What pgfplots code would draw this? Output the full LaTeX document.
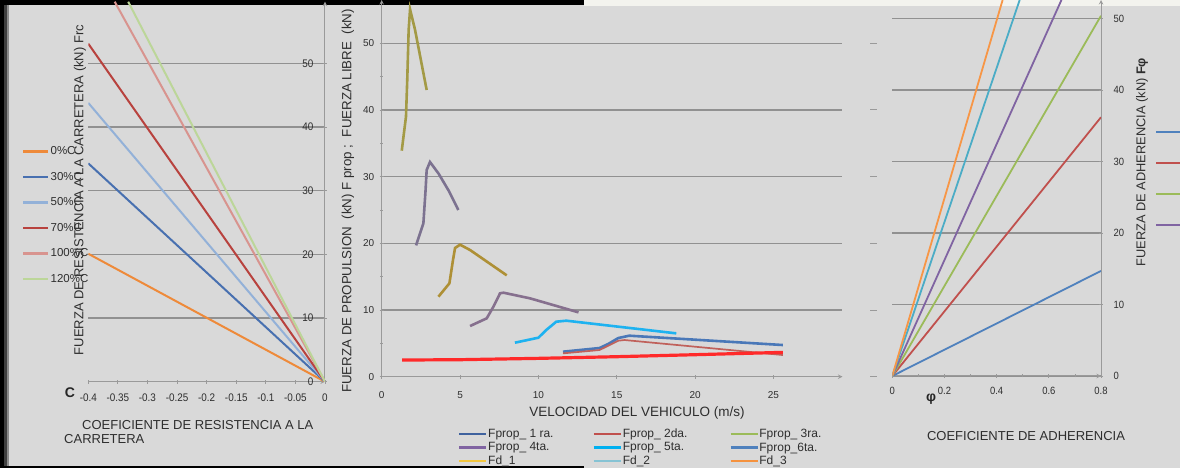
\documentclass[border=0pt]{standalone}
\usepackage{fontspec}
\setmainfont{Liberation Sans}
\newfontfamily\narrowfont[FakeStretch=0.9]{Liberation Sans}
\usepackage{pgfplots}
\pgfplotsset{compat=1.18}
\definecolor{bg}{HTML}{D9D9D9}
\definecolor{ybar}{HTML}{F7C000}
\definecolor{offw}{HTML}{F3F3EE}
\definecolor{gridc}{HTML}{919191}
\definecolor{axl}{HTML}{9A9A9A}
\definecolor{txt}{HTML}{2E2E2E}
\definecolor{lOr}{HTML}{EE8A3A}
\definecolor{lBl}{HTML}{4870B0}
\definecolor{lLb}{HTML}{93B1D8}
\definecolor{lRd}{HTML}{B8423E}
\definecolor{lPk}{HTML}{D8948F}
\definecolor{lGr}{HTML}{BCD699}
\definecolor{mOl}{HTML}{A39A45}
\definecolor{mGp}{HTML}{7C7290}
\definecolor{mGo}{HTML}{AE9036}
\definecolor{mPb}{HTML}{86708E}
\definecolor{mCy}{HTML}{1EB2F0}
\definecolor{mBl}{HTML}{4A78B8}
\definecolor{mRt}{HTML}{C0615B}
\definecolor{mRd}{HTML}{FF2A2A}
\definecolor{gA}{HTML}{3F629E}
\definecolor{gB}{HTML}{C0504D}
\definecolor{gC}{HTML}{9BBB59}
\definecolor{gD}{HTML}{8064A2}
\definecolor{gE}{HTML}{00B0F0}
\definecolor{gF}{HTML}{4F81BD}
\definecolor{gG}{HTML}{F2C640}
\definecolor{gH}{HTML}{86C3D4}
\definecolor{gI}{HTML}{F5923E}
\definecolor{rBl}{HTML}{4F81BD}
\definecolor{rRd}{HTML}{C0504D}
\definecolor{rGr}{HTML}{9BBB59}
\definecolor{rPu}{HTML}{8064A2}
\definecolor{rCy}{HTML}{4BACC6}
\definecolor{rOr}{HTML}{F79646}
\pgfplotsset{
  panel/.style={
    scale only axis, anchor=south west,
    axis line style={-, draw=axl, line width=1pt},
    ymajorgrids, grid style={draw=gridc, line width=1.5pt},
    major tick style={draw=axl, line width=0.8pt},
    minor tick style={draw=axl, line width=0.8pt},
    tick align=outside, major tick length=4pt, minor tick length=3pt,
    tick label style={text=txt},
    /pgf/number format/assume math mode=true,
    legend cell align=left,
  },
}
\begin{document}
\begin{tikzpicture}[x=1pt,y=1pt]
\clip (0,0) rectangle (1180,468);
\fill[bg] (0,0) rectangle (1180,468);
\fill[ybar] (0,463) rectangle (584,468);
\fill[offw] (584,462) rectangle (1180,468);
\fill[ybar] (0,0) rectangle (584,2);
\fill[ybar] (0,0) rectangle (4,468);
\fill[black!75] (4,2) rectangle (6.5,463);
\fill[black!45] (6.5,2) rectangle (9,463);

% ---------------- left panel ----------------
\begin{axis}[panel,
  at={(88.3pt,86.3pt)}, width=236.7pt, height=380pt,
  xmin=-0.4, xmax=0, ymin=0, ymax=59.7,
  axis x line=bottom, axis y line=right,
  tick align=center,
  xtick={-0.4,-0.35,-0.3,-0.25,-0.2,-0.15,-0.1,-0.05,0},
  xticklabels={-0.4,-0.35,-0.3,-0.25,-0.2,-0.15,-0.1,-0.05,0},
  ytick={0,10,20,30,40,50},
  xticklabel style={font=\narrowfont\fontsize{11}{12}\selectfont, yshift=-7pt},
  yticklabel style={font=\narrowfont\fontsize{11}{12}\selectfont, anchor=east, xshift=-10pt},
  legend style={at={(-0.28,0.622)}, anchor=north west, draw=none, fill=none,
    font=\fontsize{11.5}{12}\selectfont, text=txt, row sep=14pt, inner sep=0pt,
    nodes={inner sep=1pt}},
  legend image code/.code={\draw[#1, line width=2.4pt] (0pt,0pt) -- (25pt,0pt);},
]
\addplot[lOr, line width=2pt] coordinates {(-0.4,20.1) (0,0)}; \addlegendentry{0\%C}
\addplot[lBl, line width=2pt] coordinates {(-0.4,34.3) (0,0)}; \addlegendentry{30\%C}
\addplot[lLb, line width=2pt] coordinates {(-0.4,43.8) (0,0)}; \addlegendentry{50\%C}
\addplot[lRd, line width=2pt] coordinates {(-0.4,53.1) (0,0)}; \addlegendentry{70\%C}
\addplot[lPk, line width=2pt] coordinates {(-0.3554,59.7) (0,0)}; \addlegendentry{100\%C}
\addplot[lGr, line width=2pt] coordinates {(-0.3326,59.7) (0,0)}; \addlegendentry{120\%C}
\end{axis}

% ---------------- middle panel ----------------
\begin{axis}[panel,
  at={(381.7pt,91.3pt)}, width=460.7pt, height=376.7pt,
  xmin=0, xmax=29.4, ymin=0, ymax=56.5,
  axis x line=bottom, axis y line=left,
  xtick={0,5,10,15,20,25}, ytick={0,10,20,30,40,50}, minor ytick={5,15,25,35,45},
  tick label style={font=\fontsize{10}{11}\selectfont},
  xticklabel style={yshift=-9pt},
  yticklabel style={xshift=-2pt},
  legend columns=3,
  legend style={at={(0.1656,-0.136)}, anchor=north west, draw=none, fill=none,
    font=\fontsize{12}{13}\selectfont, text=txt, inner sep=0pt, row sep=2.5pt,
    nodes={inner sep=0.6pt}},
  legend image code/.code={\draw[#1] (0pt,0pt) -- (27pt,0pt);},
]
\addplot[mOl, line width=2.6pt, forget plot] coordinates {(1.28,33.9) (1.55,39) (1.63,44.5) (1.72,52) (1.81,55.1) (2.13,52) (2.5,47.5) (2.87,43)};
\addplot[mGp, line width=2.6pt, forget plot] coordinates {(2.19,19.7) (2.66,23) (2.8,28) (2.87,31) (3.08,32.2) (3.62,30.5) (4.3,27.8) (4.89,25)};
\addplot[mGo, line width=2.6pt, forget plot] coordinates {(3.62,12) (4.32,14) (4.55,17.5) (4.68,19.3) (5.0,19.8) (5.64,19) (7.98,15.2)};
\addplot[mPb, line width=2.6pt, forget plot] coordinates {(5.64,7.6) (6.7,8.75) (7.13,10.5) (7.55,12.5) (7.77,12.6) (9.47,11.75) (12.56,9.65)};
\addplot[mCy, line width=2.6pt, forget plot] coordinates {(8.5,5.1) (10.0,5.85) (10.5,7.0) (11.14,8.25) (11.78,8.4) (18.8,6.5)};
\addplot[mBl, line width=2.6pt, forget plot] coordinates {(11.57,3.75) (13.9,4.3) (14.45,4.9) (15.1,5.8) (15.8,6.15) (25.6,4.75)};
\addplot[mRt, line width=1.7pt, forget plot] coordinates {(11.57,3.5) (13.9,4.0) (15.1,5.4) (15.5,5.5) (25.6,3.25)};
\addplot[mRd, line width=3.2pt, forget plot] coordinates {(1.3,2.5) (5,2.55) (10,2.75) (15,3.0) (20,3.3) (25.6,3.65)};
\addlegendimage{gA, line width=2.4pt}\addlegendentry{\makebox[104pt][l]{Fprop\_ 1 ra.}}
\addlegendimage{gB, line width=2.4pt}\addlegendentry{\makebox[106pt][l]{Fprop\_ 2da.}}
\addlegendimage{gC, line width=2.4pt}\addlegendentry{Fprop\_ 3ra.}
\addlegendimage{gD, line width=2.4pt}\addlegendentry{\makebox[104pt][l]{Fprop\_ 4ta.}}
\addlegendimage{gE, line width=2.4pt}\addlegendentry{\makebox[106pt][l]{Fprop\_ 5ta.}}
\addlegendimage{gF, line width=2.4pt}\addlegendentry{Fprop\_6ta.}
\addlegendimage{gG, line width=1.9pt}\addlegendentry{\makebox[104pt][l]{Fd\_1}}
\addlegendimage{gH, line width=1.9pt}\addlegendentry{\makebox[106pt][l]{Fd\_2}}
\addlegendimage{gI, line width=1.9pt}\addlegendentry{Fd\_3}
\end{axis}

% ---------------- right panel ----------------
\begin{axis}[panel,
  at={(892.3pt,92pt)}, width=208.7pt, height=376pt,
  xmin=0, xmax=0.8, ymin=0, ymax=52.6,
  axis x line=bottom, axis y line=right,
  xtick={0,0.2,0.4,0.6,0.8}, xticklabels={0,0.2,0.4,0.6,0.8},
  minor xtick={0.1,0.3,0.5,0.7},
  ytick={0,10,20,30,40,50},
  tick label style={font=\narrowfont\fontsize{10.5}{12}\selectfont},
  xticklabel style={yshift=-6pt},
  yticklabel style={xshift=7pt},
  legend style={overlay, at={(1.2588,0.665)}, anchor=north west, draw=none, fill=none,
    font=\fontsize{11}{12}\selectfont, text=txt, row sep=20pt, inner sep=0pt,
    nodes={inner sep=1pt}},
  legend image code/.code={\draw[#1] (0pt,0pt) -- (25pt,0pt);},
]
\addplot[rBl, line width=1.8pt] coordinates {(0,0) (0.8,14.7)}; \addlegendentry{0\%C}
\addplot[rRd, line width=1.8pt] coordinates {(0,0) (0.8,36.2)}; \addlegendentry{30\%C}
\addplot[rGr, line width=1.8pt] coordinates {(0,0) (0.8,50.4)}; \addlegendentry{50\%C}
\addplot[rPu, line width=1.8pt] coordinates {(0,0) (0.6484,52.6)}; \addlegendentry{70\%C}
\addplot[rCy, line width=1.8pt, forget plot] coordinates {(0,0) (0.4882,52.6)};
\addplot[rOr, line width=1.8pt, forget plot] coordinates {(0,0) (0.4229,52.6)};
\end{axis}

\foreach \yy in {43.3,109.3,176.7,243.3,310,376.7}
  \draw[axl, line width=0.8pt] (870,468-\yy) -- (877,468-\yy);

% ---------------- labels ----------------
\node[rotate=90, font=\fontsize{13}{15}\selectfont, text=txt] at (80,278)
  {FUERZA DE RESISTENCIA A LA CARRETERA (kN) Frc};
\node[font=\bfseries\fontsize{14}{16}\selectfont, text=black!85] at (70,75) {C};
\node[anchor=west, font=\fontsize{13}{15}\selectfont, text=txt, inner sep=0pt] at (82,43)
  {COEFICIENTE DE RESISTENCIA A LA};
\node[anchor=west, font=\fontsize{13}{15}\selectfont, text=txt, inner sep=0pt] at (64,29)
  {CARRETERA};
\node[overlay, rotate=90, anchor=west, inner sep=0pt, font=\fontsize{13.3}{15}\selectfont, text=txt] at (348,75)
  {FUERZA DE PROPULSION \ (kN) F prop ; \ FUERZA LIBRE \ (kN)};
\node[font=\fontsize{13.5}{15}\selectfont, text=txt] at (637,55)
  {VELOCIDAD DEL VEHICULO (m/s)};
\node[font=\fontsize{13}{15}\selectfont, text=txt] at (1026,32)
  {COEFICIENTE DE ADHERENCIA};
\node[rotate=90, font=\fontsize{12.8}{14}\selectfont, text=txt] at (1142,306)
  {FUERZA DE ADHERENCIA (kN) \textbf{Fφ}};
\node[font=\bfseries\fontsize{14}{16}\selectfont, text=black!85] at (931,69) {φ};
\end{tikzpicture}
\end{document}
